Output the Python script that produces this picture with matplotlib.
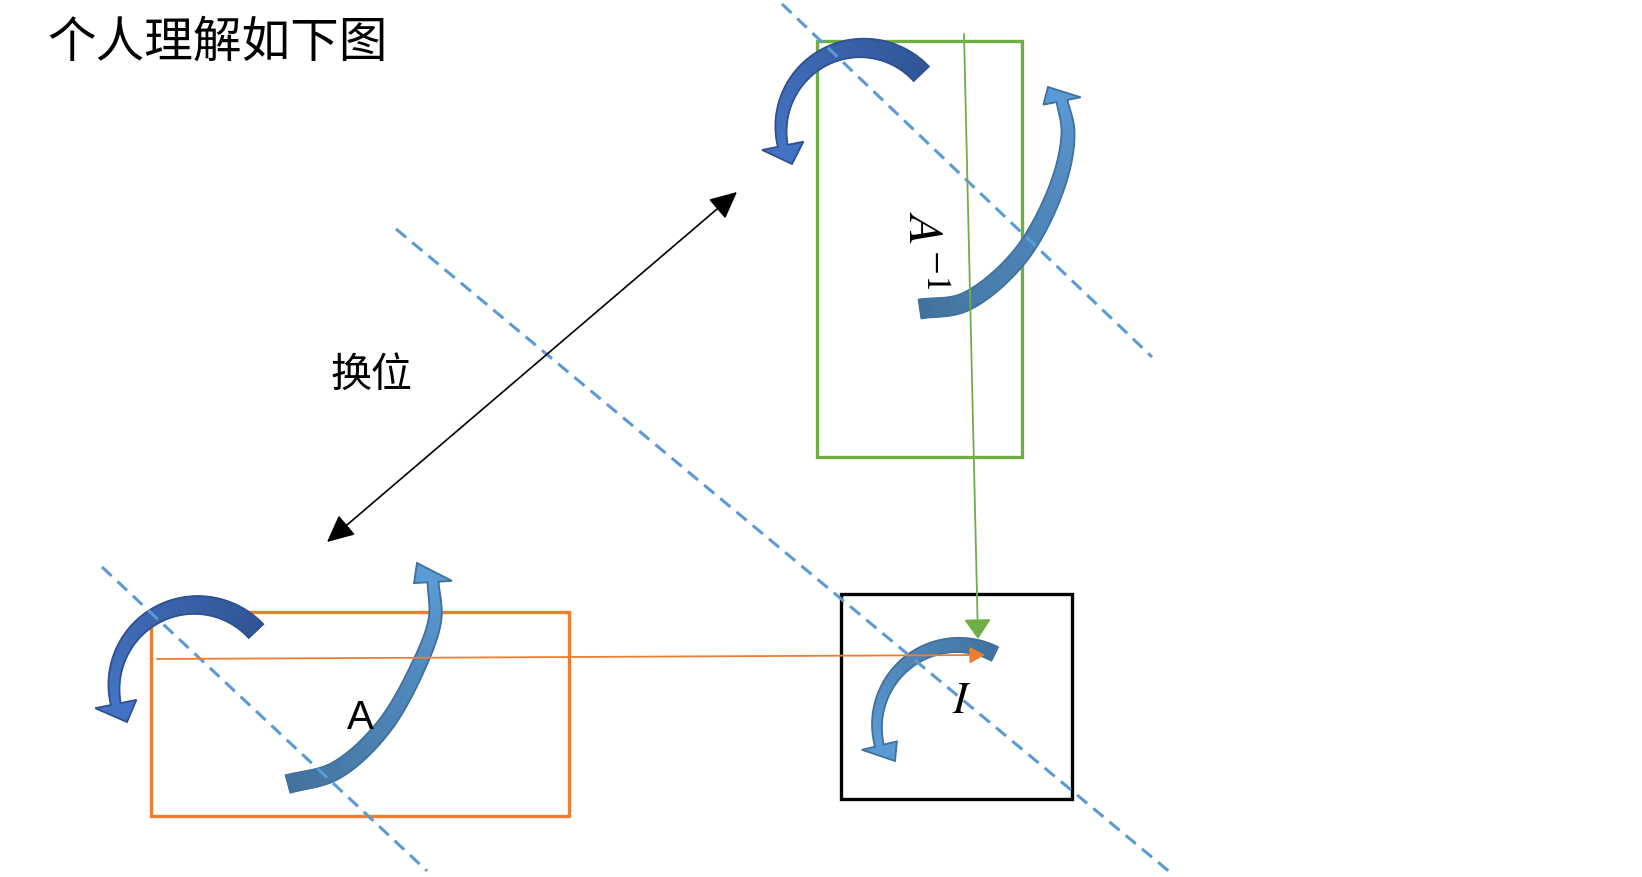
import numpy as np
import matplotlib
matplotlib.use("Agg")
import matplotlib.pyplot as plt
from matplotlib.patches import Polygon, Rectangle

plt.rcParams['font.family'] = ['Noto Sans CJK SC', 'DejaVu Sans']
plt.rcParams['mathtext.fontset'] = 'stix'

W, H = 1642, 878

title_text = "个人理解如下图"
swap_text = "换位"

# boxes (x0, y0, x1, y1), pixel coords with y going down
box_A = (151, 613, 569, 817)
box_inv = (817, 42, 1022, 458)
box_I = (841, 595, 1072, 800)

# dashed diagonals
diag_lines = [((782, 5), (1152, 358)),
              ((396, 230), (1171, 874)),
              ((102, 568), (427, 872))]

swap_arrow = ((327, 543), (737, 193))
green_arrow = ((964, 35), (978, 640))
orange_arrow = ((157, 660), (985, 656))

# round curved arrows: centre, radius, start/end angle (deg), tip
arc_inv_left = ((862, 130), 81, 43, 192, (792, 165))
arc_A_left = ((196, 688), 82, 43, 192, (127, 723))
arc_I = ((958, 727), 81, 63, 194, (895, 762))

# long curved arrows: centre line from tail to head base, then tip
curl_inv_right = [(920, 310), (965, 303), (1020, 257), (1058, 185), (1068, 133), (1062, 102)]
tip_inv_right = (1048, 88)
curl_A_right = [(288, 785), (335, 772), (382, 730), (418, 668), (435, 620), (433, 583)]
tip_A_right = (417, 564)


def catmull(pts, n=40, alpha=0.5):
    # centripetal Catmull-Rom through the given points
    p = np.asarray(pts, float)
    p = np.vstack([2 * p[0] - p[1], p, 2 * p[-1] - p[-2]])
    out = []
    for i in range(1, len(p) - 2):
        p0, p1, p2, p3 = p[i - 1], p[i], p[i + 1], p[i + 2]
        t0 = 0.0
        t1 = t0 + np.linalg.norm(p1 - p0) ** alpha
        t2 = t1 + np.linalg.norm(p2 - p1) ** alpha
        t3 = t2 + np.linalg.norm(p3 - p2) ** alpha
        t = np.linspace(t1, t2, n, endpoint=False)[:, None]
        a1 = (t1 - t) / (t1 - t0) * p0 + (t - t0) / (t1 - t0) * p1
        a2 = (t2 - t) / (t2 - t1) * p1 + (t - t1) / (t2 - t1) * p2
        a3 = (t3 - t) / (t3 - t2) * p2 + (t - t2) / (t3 - t2) * p3
        b1 = (t2 - t) / (t2 - t0) * a1 + (t - t0) / (t2 - t0) * a2
        b2 = (t3 - t) / (t3 - t1) * a2 + (t - t1) / (t3 - t1) * a3
        out.append((t2 - t) / (t2 - t1) * b1 + (t - t1) / (t2 - t1) * b2)
    out.append(p[-2][None])
    return np.vstack(out)


def arc_line(c, r, a0, a1, n=120):
    th = np.radians(np.linspace(a0, a1, n))
    return np.c_[c[0] + r * np.cos(th), c[1] - r * np.sin(th)]


def mix(c0, c1, f):
    a = np.array(matplotlib.colors.to_rgb(c0))
    b = np.array(matplotlib.colors.to_rgb(c1))
    return tuple(a + (b - a) * f)


def curl(ax, body, tip, w0, w1, hw, c_tail, c_head, edge):
    tip = np.asarray(tip, float)
    d = np.gradient(body, axis=0)
    d /= np.linalg.norm(d, axis=1)[:, None]
    nrm = np.c_[-d[:, 1], d[:, 0]]
    f = np.linspace(0, 1, len(body))
    w = (w0 + (w1 - w0) * f ** 1.3)[:, None] / 2
    left = body + nrm * w
    right = body - nrm * w
    n = len(body)
    for i in range(n - 1):
        col = mix(c_tail, c_head, i / (n - 1))
        quad = np.array([left[i], left[i + 1], right[i + 1], right[i]])
        ax.add_patch(Polygon(quad, closed=True, facecolor=col, edgecolor=col,
                             lw=0.6, zorder=2))
    base = body[-1]
    wing1 = base + nrm[-1] * hw
    wing2 = base - nrm[-1] * hw
    head = np.array([left[-1], wing1, tip, wing2, right[-1]])
    ax.add_patch(Polygon(head, closed=True, facecolor=c_head, edgecolor=c_head,
                         lw=0.6, zorder=2))
    outline = np.vstack([left, [wing1, tip, wing2], right[::-1]])
    ax.add_patch(Polygon(outline, closed=True, fill=False, edgecolor=edge,
                         lw=1.3, zorder=2.1))


fig = plt.figure(figsize=(W / 100, H / 100), dpi=100)
ax = fig.add_axes([0, 0, 1, 1])
ax.set_xlim(0, W)
ax.set_ylim(H, 0)
ax.axis('off')

for (x0, y0, x1, y1), col in [(box_A, '#ED7D31'), (box_inv, '#70AD47'), (box_I, 'black')]:
    ax.add_patch(Rectangle((x0, y0), x1 - x0, y1 - y0, fill=False,
                           edgecolor=col, lw=2.4, zorder=1))

dark = ('#2F5597', '#4472C4', '#2F528F')
steel = ('#41719C', '#5B9BD5', '#41719C')

for (c, r, a0, a1, tip), w0, w1, hw, cols in [
        (arc_inv_left, 21, 10, 21, dark),
        (arc_A_left, 20, 10, 21, dark),
        (arc_I, 15, 9, 18, steel)]:
    curl(ax, arc_line(c, r, a0, a1), tip, w0, w1, hw, *cols)

curl(ax, catmull(curl_inv_right), tip_inv_right, 19, 11, 19, *steel)
curl(ax, catmull(curl_A_right), tip_A_right, 18, 11, 19, *steel)

for (p, q) in diag_lines:
    ax.plot([p[0], q[0]], [p[1], q[1]], color='#5B9BD5', lw=2.2,
            dashes=(4.3, 2.6), zorder=3)

ax.annotate("", xy=swap_arrow[1], xytext=swap_arrow[0],
            arrowprops=dict(arrowstyle='<|-|>,head_length=0.42,head_width=0.2',
                            color='black', lw=1.2, shrinkA=0, shrinkB=0,
                            mutation_scale=40), zorder=4)
ax.annotate("", xy=green_arrow[1], xytext=green_arrow[0],
            arrowprops=dict(arrowstyle='-|>,head_length=0.41,head_width=0.28',
                            color='#70AD47', lw=1.3, shrinkA=0, shrinkB=0,
                            mutation_scale=30), zorder=4)
ax.annotate("", xy=orange_arrow[1], xytext=orange_arrow[0],
            arrowprops=dict(arrowstyle='-|>,head_length=0.37,head_width=0.2',
                            color='#ED7D31', lw=1.3, shrinkA=0, shrinkB=0,
                            mutation_scale=25), zorder=4)

ax.text(47, 43, title_text, fontsize=35, ha='left', va='center', zorder=5)
ax.text(371, 375, swap_text, fontsize=29.5, ha='center', va='center', zorder=5)
ax.text(360, 718, "A", fontsize=29, family='Liberation Sans', ha='center',
        va='center', zorder=5)
ax.text(962, 700, "$I$", fontsize=32, ha='center', va='center', zorder=5)
ax.text(922, 250, "$A^{-1}$", fontsize=36, rotation=-90, ha='center',
        va='center', zorder=5)

fig.savefig("out.png", dpi=100)
